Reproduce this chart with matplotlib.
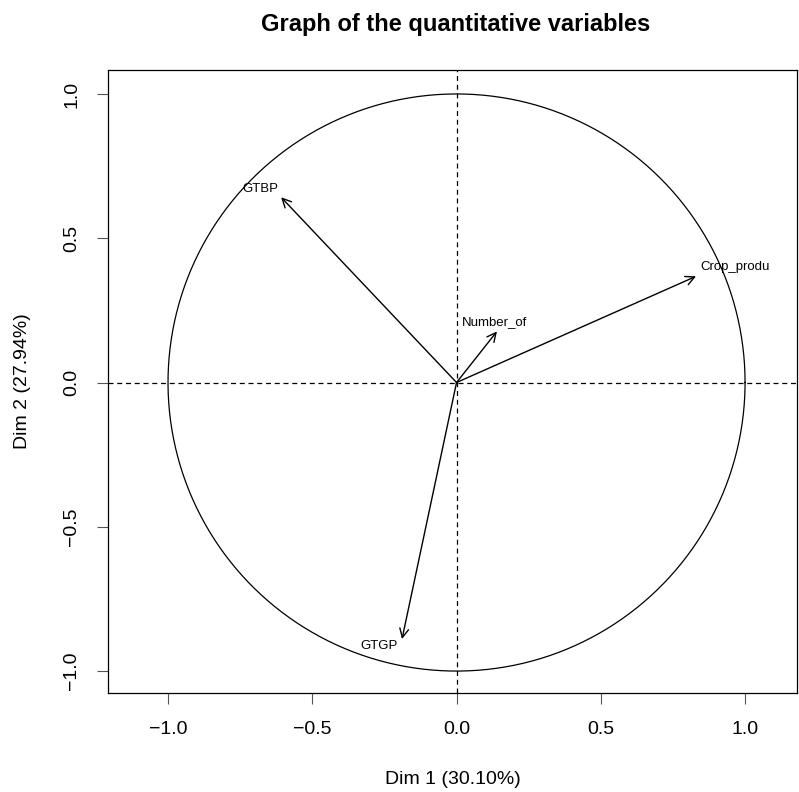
import numpy as np
import matplotlib
matplotlib.use("Agg")
from matplotlib import pyplot as plt

plt.rcParams['font.family'] = ['Liberation Sans', 'DejaVu Sans']

variables = ['GTBP', 'Crop_produ', 'Number_of', 'GTGP']
dim1 = [-0.608, 0.830, 0.140, -0.189]
dim2 = [0.642, 0.368, 0.177, -0.889]
# label offsets in points relative to arrow tip
label_offsets = [(-15, 6), (28, 6.5), (-2, 6.5), (-16.5, -5)]

ticks = [-1.0, -0.5, 0.0, 0.5, 1.0]
tick_labels = ['\u22121.0', '\u22120.5', '0.0', '0.5', '1.0']

fig = plt.figure(figsize=(7.99, 7.92), dpi=100)
ax = fig.add_axes([108/799, 1-693/792, (797-108)/799, (693-70)/792])

theta = np.linspace(0, 2*np.pi, 400)
ax.plot(np.cos(theta), np.sin(theta), color='black', lw=0.9)
ax.axhline(0, color='black', lw=0.9, ls=(0, (4, 3)))
ax.axvline(0, color='black', lw=0.9, ls=(0, (4, 3)))

for name, x, y, off in zip(variables, dim1, dim2, label_offsets):
    ax.annotate('', xy=(x, y), xytext=(0, 0),
                arrowprops=dict(arrowstyle='->', color='black', lw=1.0,
                                mutation_scale=16, shrinkA=0, shrinkB=0))
    ax.annotate(name, xy=(x, y), xytext=off, textcoords='offset points',
                ha='center', va='center', fontsize=9.5)

ax.set_xlim(-1.208, 1.18)
ax.set_ylim(-1.076, 1.083)
ax.set_xticks(ticks)
ax.set_xticklabels(tick_labels, fontsize=14)
ax.set_yticks(ticks)
ax.set_yticklabels(tick_labels, fontsize=14, rotation=90, va='center')
ax.tick_params(length=8, width=0.8, color='#555555', pad=12)
for s in ax.spines.values():
    s.set_linewidth(0.9)

ax.set_xlabel('Dim 1 (30.10%)', fontsize=14, labelpad=24)
ax.set_ylabel('Dim 2 (27.94%)', fontsize=14, labelpad=23)
fig.text(456/799, 1-24/792, 'Graph of the quantitative variables', ha='center', va='center',
         fontsize=17, fontweight='bold')

fig.savefig('out.png', dpi=100)
